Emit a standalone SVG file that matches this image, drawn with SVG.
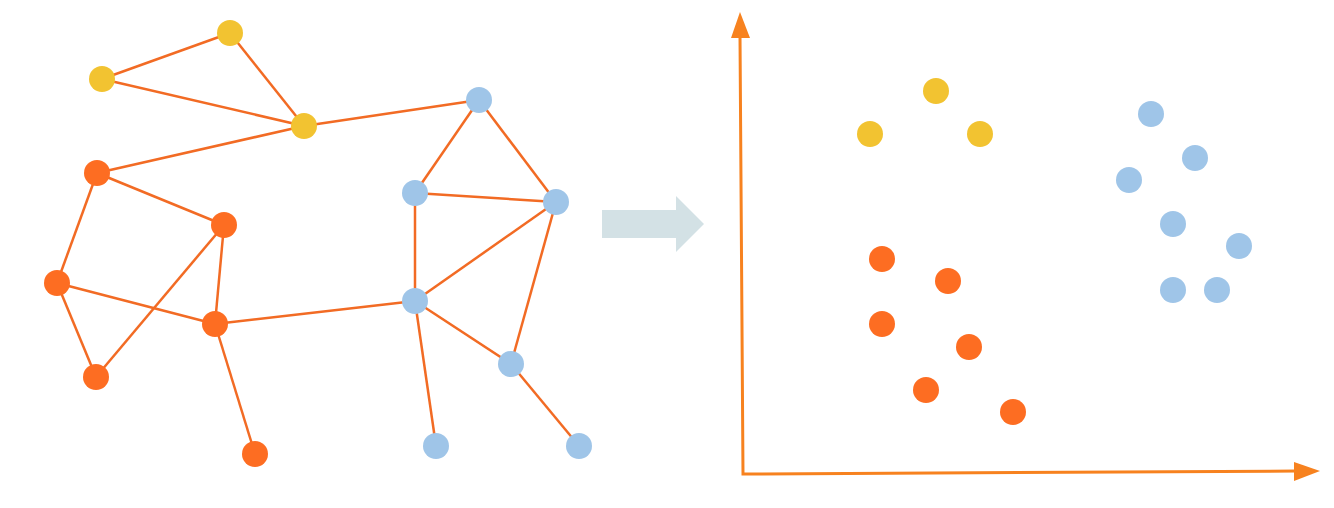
<svg xmlns="http://www.w3.org/2000/svg" width="1334" height="508" viewBox="0 0 1334 508">
<style>
.e{stroke:#f26b24;stroke-width:2.5;fill:none}
.y{fill:#f2c331}
.o{fill:#fd6d22}
.b{fill:#9fc5e8}
.ax{stroke:#f7821f;stroke-width:3;fill:none}
</style>
<rect width="1334" height="508" fill="#fff"/>
<g id="edges">
<line class="e" x1="102" y1="79" x2="230" y2="33"/>
<line class="e" x1="230" y1="33" x2="304" y2="126"/>
<line class="e" x1="102" y1="79" x2="304" y2="126"/>
<line class="e" x1="304" y1="126" x2="479" y2="100"/>
<line class="e" x1="304" y1="126" x2="97" y2="173"/>
<line class="e" x1="97" y1="173" x2="224" y2="225"/>
<line class="e" x1="97" y1="173" x2="57" y2="283"/>
<line class="e" x1="57" y1="283" x2="215" y2="324"/>
<line class="e" x1="57" y1="283" x2="96" y2="377"/>
<line class="e" x1="96" y1="377" x2="224" y2="225"/>
<line class="e" x1="224" y1="225" x2="215" y2="324"/>
<line class="e" x1="215" y1="324" x2="255" y2="454"/>
<line class="e" x1="215" y1="324" x2="415" y2="301"/>
<line class="e" x1="479" y1="100" x2="415" y2="193"/>
<line class="e" x1="479" y1="100" x2="556" y2="202"/>
<line class="e" x1="415" y1="193" x2="556" y2="202"/>
<line class="e" x1="415" y1="193" x2="415" y2="301"/>
<line class="e" x1="415" y1="301" x2="556" y2="202"/>
<line class="e" x1="556" y1="202" x2="511" y2="364"/>
<line class="e" x1="415" y1="301" x2="511" y2="364"/>
<line class="e" x1="415" y1="301" x2="436" y2="446"/>
<line class="e" x1="511" y1="364" x2="579" y2="446"/>
</g>
<g id="graph-nodes">
<circle id="y1" class="y" cx="230" cy="33" r="13"/>
<circle id="y2" class="y" cx="102" cy="79" r="13"/>
<circle id="y3" class="y" cx="304" cy="126" r="13"/>
<circle id="o1" class="o" cx="97" cy="173" r="13"/>
<circle id="o2" class="o" cx="224" cy="225" r="13"/>
<circle id="o3" class="o" cx="57" cy="283" r="13"/>
<circle id="o4" class="o" cx="215" cy="324" r="13"/>
<circle id="o5" class="o" cx="96" cy="377" r="13"/>
<circle id="o6" class="o" cx="255" cy="454" r="13"/>
<circle id="b1" class="b" cx="479" cy="100" r="13"/>
<circle id="b2" class="b" cx="415" cy="193" r="13"/>
<circle id="b3" class="b" cx="556" cy="202" r="13"/>
<circle id="b4" class="b" cx="415" cy="301" r="13"/>
<circle id="b5" class="b" cx="511" cy="364" r="13"/>
<circle id="b6" class="b" cx="436" cy="446" r="13"/>
<circle id="b7" class="b" cx="579" cy="446" r="13"/>
</g>
<g id="transform-arrow">
<polygon points="602,210 676,210 676,196 704,224 676,252 676,238 602,238" fill="#d3e1e5"/>
</g>
<g id="axes">
<polyline class="ax" points="740,36 743,474 1296,471"/>
<polygon points="740,12 750,38 731,38" fill="#f7821f"/>
<polygon points="1320,471 1294,462 1294,481" fill="#f7821f"/>
</g>
<g id="scatter">
<circle class="y" cx="936" cy="91" r="13"/>
<circle class="y" cx="870" cy="134" r="13"/>
<circle class="y" cx="980" cy="134" r="13"/>
<circle class="b" cx="1151" cy="114" r="13"/>
<circle class="b" cx="1195" cy="158" r="13"/>
<circle class="b" cx="1129" cy="180" r="13"/>
<circle class="b" cx="1173" cy="224" r="13"/>
<circle class="b" cx="1239" cy="246" r="13"/>
<circle class="b" cx="1173" cy="290" r="13"/>
<circle class="b" cx="1217" cy="290" r="13"/>
<circle class="o" cx="882" cy="259" r="13"/>
<circle class="o" cx="948" cy="281" r="13"/>
<circle class="o" cx="882" cy="324" r="13"/>
<circle class="o" cx="969" cy="347" r="13"/>
<circle class="o" cx="926" cy="390" r="13"/>
<circle class="o" cx="1013" cy="412" r="13"/>
</g>
</svg>
